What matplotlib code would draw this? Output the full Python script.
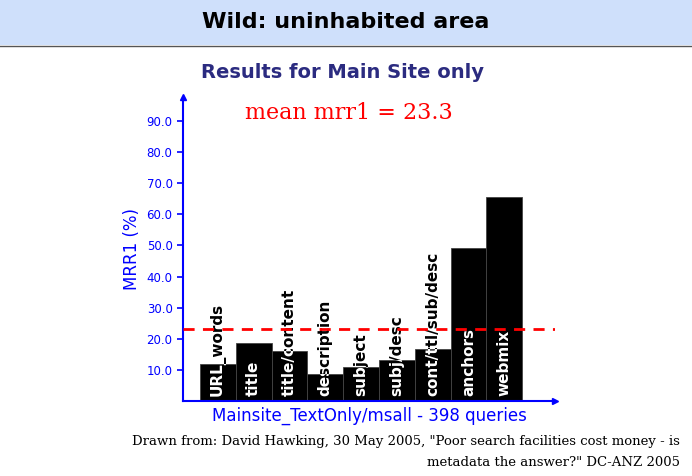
import matplotlib
matplotlib.use("Agg")
import matplotlib.pyplot as plt
from matplotlib.patches import Rectangle

categories = ["URL_words", "title", "title/content", "description", "subject",
              "subj/desc", "cont/ttl/sub/desc", "anchors", "webmix"]
mrr1 = [12.0, 18.5, 16.0, 8.8, 11.0, 13.2, 16.7, 49.2, 65.5]
mean_mrr1 = 23.3
yticks = [10, 20, 30, 40, 50, 60, 70, 80, 90]

W, H = 692, 476
fig = plt.figure(figsize=(W/100, H/100), dpi=100)
fig.patch.set_facecolor("white")

# header band
fig.patches.append(Rectangle((0, 1-45/H), 1, 45/H, transform=fig.transFigure,
                             facecolor="#cfe0fb", edgecolor="none"))
fig.lines.append(plt.Line2D([0, 1], [1-46/H]*2, transform=fig.transFigure, color="#555555", lw=1))
fig.text(0.5, 1-22/H, "Wild: uninhabited area", ha="center", va="center",
         fontsize=16, fontweight="bold", family="DejaVu Sans")
fig.text(0.495, 1-72/H, "Results for Main Site only", ha="center", va="center",
         fontsize=14, fontweight="bold", color="#2b2b80", family="DejaVu Sans")

x0, x1, y0, y1 = 183, 555, 401, 97
ax = fig.add_axes([x0/W, 1-y0/H, (x1-x0)/W, (y0-y1)/H])
ax.set_xlim(-0.976, 9.42)
ax.set_ylim(0, 97.7)
for s in ["top", "right"]:
    ax.spines[s].set_visible(False)
for s in ["left", "bottom"]:
    ax.spines[s].set_color("blue")
    ax.spines[s].set_linewidth(1.5)
ax.plot(1, 0, ">", color="blue", transform=ax.transAxes, clip_on=False, ms=5)
ax.plot(0, 1, "^", color="blue", transform=ax.transAxes, clip_on=False, ms=4)

bars = ax.bar(range(len(categories)), mrr1, width=1.0, color="black",
              edgecolor="#444444", linewidth=0.6, zorder=2)
for i, (c, b) in enumerate(zip(categories, bars)):
    ax.text(i, 1.5, c, rotation=90, ha="center", va="bottom", fontsize=11,
            fontweight="bold", color="black", zorder=3)
    t = ax.text(i, 1.5, c, rotation=90, ha="center", va="bottom", fontsize=11,
                fontweight="bold", color="white", zorder=4)
    t.set_clip_on(True)
    t.set_clip_path(b)

ax.axhline(mean_mrr1, color="red", ls=(0, (4, 3)), lw=2, zorder=5, xmax=1.0)
ax.text(0.76, 92.5, "mean mrr1 = %.1f" % mean_mrr1, color="red", fontsize=16,
        family="DejaVu Serif", va="center")

ax.set_xticks([])
ax.set_yticks(yticks)
ax.set_yticklabels(["%.1f" % v for v in yticks], color="blue", fontsize=8.5)
ax.tick_params(axis="y", colors="blue", length=4, width=1.2)
ax.set_ylabel("MRR1 (%)", color="blue", fontsize=12)
ax.set_xlabel("Mainsite_TextOnly/msall - 398 queries", color="blue", fontsize=12, labelpad=4)

fig.text(680/W, 1-441/H, 'Drawn from: David Hawking, 30 May 2005, "Poor search facilities cost money - is',
         ha="right", va="center", fontsize=9.5, family="DejaVu Serif")
fig.text(680/W, 1-462/H, 'metadata the answer?" DC-ANZ 2005',
         ha="right", va="center", fontsize=9.5, family="DejaVu Serif")

fig.savefig("out.png", dpi=100)
